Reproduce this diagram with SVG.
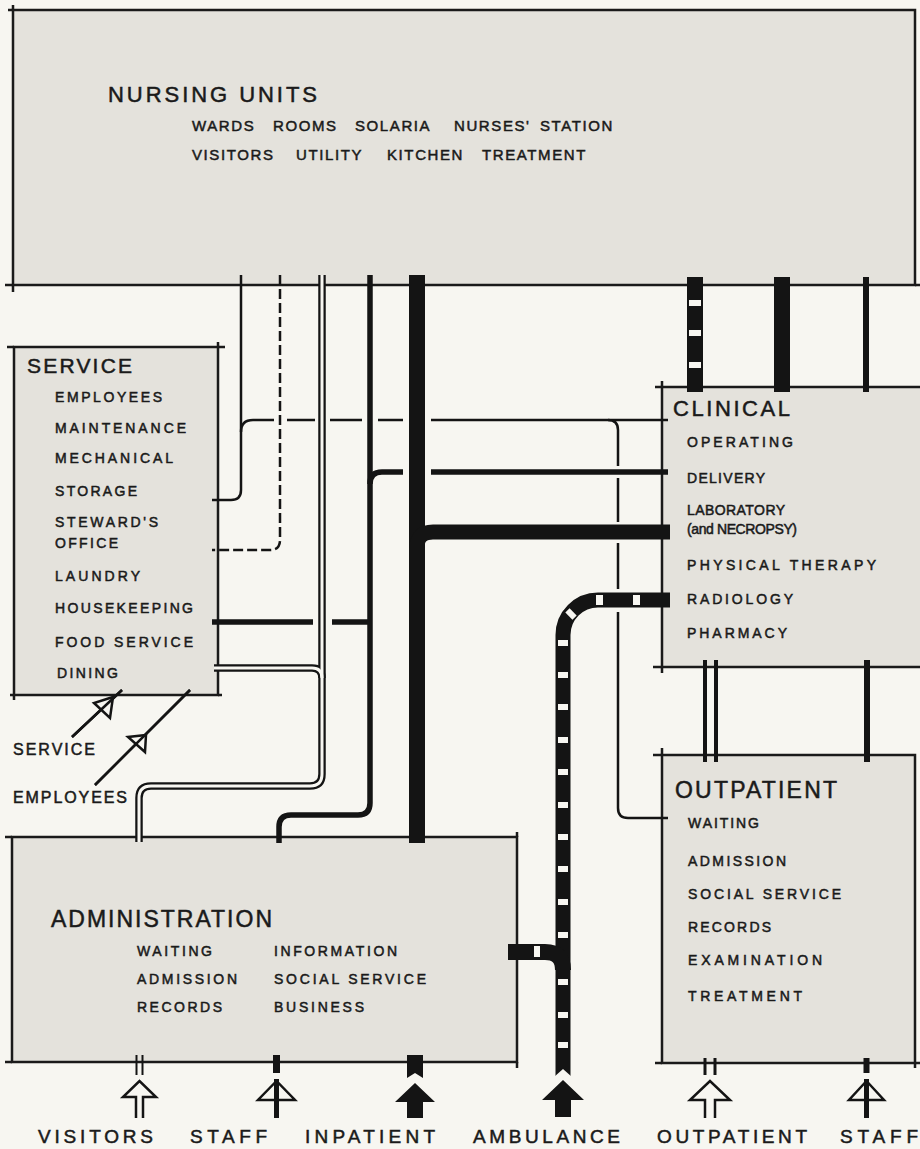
<svg xmlns="http://www.w3.org/2000/svg" width="920" height="1149" viewBox="0 0 920 1149">
<style>
.bg{fill:#f7f6f1}
.box{fill:#e4e2dc;stroke:#1a1a1a;stroke-width:2.5}
.tk{stroke:#1a1a1a;stroke-width:2.5;fill:none}
.t{font-family:"Liberation Sans",Arial,sans-serif;fill:#1a1a1a;stroke:#1a1a1a;stroke-width:0.5}
.ln{fill:none;stroke:#141414}
.w1{stroke-width:2.5}
.w2{stroke-width:5.5}
.w3{stroke-width:16}
.dbl{fill:none;stroke:#141414;stroke-width:7.5}
.dbli{fill:none;stroke:#f7f6f1;stroke-width:3}
.mk{fill:#f7f6f1}
.blk{fill:#141414}
.open{fill:#f7f6f1;stroke:#141414;stroke-width:2.5;stroke-linejoin:miter}
</style>
<rect class="bg" x="0" y="0" width="920" height="1149"/>

<g id="nursing-units">
<rect class="box" x="13" y="10" width="902" height="275"/>
<path class="tk" d="M5,285H13M915,285H920M13,285V292M8,10H13M13,5V10"/>
<text class="t" x="108" y="102" font-size="22" textLength="209" lengthAdjust="spacing">NURSING UNITS</text>
<text class="t" font-size="15" letter-spacing="1.6" y="131"><tspan x="192">WARDS</tspan><tspan x="273">ROOMS</tspan><tspan x="355">SOLARIA</tspan><tspan x="454">NURSES'</tspan><tspan x="540">STATION</tspan></text>
<text class="t" font-size="15" letter-spacing="1.6" y="160"><tspan x="192">VISITORS</tspan><tspan x="296">UTILITY</tspan><tspan x="387">KITCHEN</tspan><tspan x="482">TREATMENT</tspan></text>
</g>

<g id="service">
<rect class="box" x="14" y="347" width="204" height="348"/>
<path class="tk" d="M7,347H14M218,347H225M218,342V347M10,695H14M218,695H222M14,695V700"/>
<text class="t" x="27" y="373" font-size="21" textLength="105" lengthAdjust="spacing">SERVICE</text>
<text class="t" x="55" y="402" font-size="14" textLength="107" lengthAdjust="spacing">EMPLOYEES</text>
<text class="t" x="55" y="433" font-size="14" textLength="131" lengthAdjust="spacing">MAINTENANCE</text>
<text class="t" x="55" y="463" font-size="14" textLength="118" lengthAdjust="spacing">MECHANICAL</text>
<text class="t" x="55" y="496" font-size="14" textLength="82" lengthAdjust="spacing">STORAGE</text>
<text class="t" x="55" y="527" font-size="14" textLength="103" lengthAdjust="spacing">STEWARD'S</text>
<text class="t" x="55" y="548" font-size="14" textLength="63" lengthAdjust="spacing">OFFICE</text>
<text class="t" x="55" y="581" font-size="14" textLength="85" lengthAdjust="spacing">LAUNDRY</text>
<text class="t" x="55" y="613" font-size="14" textLength="138" lengthAdjust="spacing">HOUSEKEEPING</text>
<text class="t" x="55" y="647" font-size="14" textLength="138" lengthAdjust="spacing">FOOD SERVICE</text>
<text class="t" x="57" y="678" font-size="14" textLength="61" lengthAdjust="spacing">DINING</text>
</g>

<g id="clinical">
<rect class="box" x="662" y="387" width="262" height="280"/>
<path class="tk" d="M655,387H662M662,381V387M653,667H662M662,667V673"/>
<text class="t" x="673" y="416" font-size="22" textLength="117" lengthAdjust="spacing">CLINICAL</text>
<text class="t" x="687" y="447" font-size="14" textLength="106" lengthAdjust="spacing">OPERATING</text>
<text class="t" x="687" y="483" font-size="14" textLength="78" lengthAdjust="spacing">DELIVERY</text>
<text class="t" x="687" y="515" font-size="14" textLength="98" lengthAdjust="spacing">LABORATORY</text>
<text class="t" x="687" y="534" font-size="14" textLength="110" lengthAdjust="spacing">(and NECROPSY)</text>
<text class="t" x="687" y="570" font-size="14" textLength="189" lengthAdjust="spacing">PHYSICAL THERAPY</text>
<text class="t" x="687" y="604" font-size="14" textLength="106" lengthAdjust="spacing">RADIOLOGY</text>
<text class="t" x="687" y="638" font-size="14" textLength="100" lengthAdjust="spacing">PHARMACY</text>
</g>

<g id="outpatient">
<rect class="box" x="662" y="755" width="253" height="308"/>
<path class="tk" d="M653,755H662M662,748V755M655,1063H662M915,1063H920M915,1063V1068"/>
<text class="t" x="675" y="798" font-size="23" textLength="162" lengthAdjust="spacing">OUTPATIENT</text>
<text class="t" x="688" y="828" font-size="14" textLength="71" lengthAdjust="spacing">WAITING</text>
<text class="t" x="688" y="866" font-size="14" textLength="98" lengthAdjust="spacing">ADMISSION</text>
<text class="t" x="688" y="899" font-size="14" textLength="153" lengthAdjust="spacing">SOCIAL SERVICE</text>
<text class="t" x="688" y="932" font-size="14" textLength="83" lengthAdjust="spacing">RECORDS</text>
<text class="t" x="688" y="965" font-size="14" textLength="134" lengthAdjust="spacing">EXAMINATION</text>
<text class="t" x="688" y="1001" font-size="14" textLength="114" lengthAdjust="spacing">TREATMENT</text>
</g>

<g id="administration">
<rect class="box" x="12" y="837" width="505" height="225"/>
<path class="tk" d="M5,837H12M517,832V837M5,1062H12M517,1062V1068"/>
<text class="t" x="51" y="927" font-size="23" textLength="221" lengthAdjust="spacing">ADMINISTRATION</text>
<text class="t" x="137" y="956" font-size="14" textLength="75" lengthAdjust="spacing">WAITING</text>
<text class="t" x="137" y="984" font-size="14" textLength="100" lengthAdjust="spacing">ADMISSION</text>
<text class="t" x="137" y="1012" font-size="14" textLength="85" lengthAdjust="spacing">RECORDS</text>
<text class="t" x="274" y="956" font-size="14" textLength="123" lengthAdjust="spacing">INFORMATION</text>
<text class="t" x="274" y="984" font-size="14" textLength="152" lengthAdjust="spacing">SOCIAL SERVICE</text>
<text class="t" x="274" y="1012" font-size="14" textLength="90" lengthAdjust="spacing">BUSINESS</text>
</g>

<g id="connectors">
<path class="ln w1" d="M241,275V490Q241,500 231,500H212"/>
<path class="ln w1" d="M241,432Q241,420 253,420H274M287,420H315M330,420H362M378,420H403M431,420H668"/>
<path class="ln w1" d="M608,420Q618,420 618,430V466M618,478V522M618,543V589M618,612V808Q618,818 628,818H668"/>
<path class="ln w1" stroke-dasharray="10 4" d="M280,275V540Q280,550 270,550H212"/>
<path class="dbl" d="M322,275V774Q322,786 310,786H151Q139,786 139,798V842"/>
<path class="dbl" d="M214,668H312Q322,668 322,678"/>
<path class="dbli" d="M322,275V774Q322,786 310,786H151Q139,786 139,798V842"/>
<path class="dbli" d="M214,668H312Q322,668 322,678"/>
<path class="ln w2" d="M370,275V803Q370,815 358,815H291Q279,815 279,827V843"/>
<path class="ln w2" d="M370,484Q370,472 382,472H403M431,472H668"/>
<path class="ln w2" d="M212,622H313M332,622H370"/>
<path class="ln w3" d="M417,275V843"/>
<path class="ln" stroke-width="15" d="M417,548Q417,532 433,532H670"/>
<path class="ln" stroke-width="15" d="M563,1076V635A35,35 0 0 1 598,600H670"/>
<path class="ln w3" d="M508,952H545Q563,952 563,970"/>
<polygon class="mk" points="554,1077 563,1069 572,1077"/>
<g class="mk">
<rect x="596" y="595" width="7" height="10"/>
<rect x="633" y="595" width="7" height="10"/>
<rect x="566" y="611" width="10" height="6" transform="rotate(45 571 614)"/>
<rect x="558" y="640" width="10" height="6"/>
<rect x="558" y="672" width="10" height="6"/>
<rect x="558" y="704" width="10" height="6"/>
<rect x="558" y="737" width="10" height="6"/>
<rect x="558" y="769" width="10" height="6"/>
<rect x="558" y="802" width="10" height="6"/>
<rect x="558" y="834" width="10" height="6"/>
<rect x="558" y="866" width="10" height="6"/>
<rect x="558" y="899" width="10" height="6"/>
<rect x="558" y="932" width="10" height="6"/>
<rect x="558" y="979" width="10" height="6"/>
<rect x="558" y="1012" width="10" height="6"/>
<rect x="558" y="1042" width="10" height="6"/>
<rect x="534" y="946" width="6" height="11"/>
</g>
<path class="ln w3" d="M695,277V392"/>
<g class="mk">
<rect x="689" y="300" width="12" height="6"/>
<rect x="689" y="330" width="12" height="6"/>
<rect x="689" y="362" width="12" height="6"/>
</g>
<path class="ln w3" d="M782,277V392"/>
<path class="ln" stroke-width="6" d="M866,277V392"/>
<path class="ln" stroke-width="4" d="M705,660V762M716,660V762"/>
<path class="ln" stroke-width="6" d="M867,660V762"/>
<path class="ln w1" d="M72,737L122,690M95,785L190,690"/>
<polygon class="open" points="113,697 94,703 110,718"/>
<polygon class="open" points="146,735 128,737 145,752"/>
<path class="ln w1" d="M72,737L122,690M95,785L190,690"/>
<path class="ln" stroke-width="2" d="M136.5,1055V1075M142.5,1055V1075"/>
<path class="open" d="M136,1118V1097H123L139.5,1081L156,1097H143V1118"/>
<path class="ln" stroke-width="7" d="M276.5,1055V1073"/>
<polygon class="open" points="276.5,1081 258,1100 295,1100"/>
<path class="ln" stroke-width="5" d="M276.5,1079V1118"/>
<polygon class="blk" points="407,1055 423,1055 423,1078 415,1073 407,1078"/>
<polygon class="blk" points="415,1083 395,1102 407,1102 407,1118 423,1118 423,1102 435,1102"/>
<polygon class="blk" points="563,1080 542,1100 555,1100 555,1117 571,1117 571,1100 584,1100"/>
<path class="ln" stroke-width="3" d="M705,1058V1075M715,1058V1075"/>
<path class="open" d="M705,1118V1100H690L710,1081L730,1100H715V1118"/>
<path class="ln" stroke-width="6" d="M866.5,1058V1073"/>
<polygon class="open" points="866.5,1081 849,1100 884,1100"/>
<path class="ln" stroke-width="5" d="M866.5,1079V1118"/>
</g>

<g id="entrance-labels">
<text class="t" x="13" y="755" font-size="16" textLength="82" lengthAdjust="spacing">SERVICE</text>
<text class="t" x="13" y="803" font-size="16" textLength="114" lengthAdjust="spacing">EMPLOYEES</text>
<text class="t" x="38" y="1143" font-size="19" textLength="115" lengthAdjust="spacing">VISITORS</text>
<text class="t" x="190" y="1143" font-size="19" textLength="77" lengthAdjust="spacing">STAFF</text>
<text class="t" x="305" y="1143" font-size="19" textLength="130" lengthAdjust="spacing">INPATIENT</text>
<text class="t" x="473" y="1143" font-size="19" textLength="147" lengthAdjust="spacing">AMBULANCE</text>
<text class="t" x="657" y="1143" font-size="19" textLength="150" lengthAdjust="spacing">OUTPATIENT</text>
<text class="t" x="840" y="1143" font-size="19" textLength="78" lengthAdjust="spacing">STAFF</text>
</g>
</svg>
